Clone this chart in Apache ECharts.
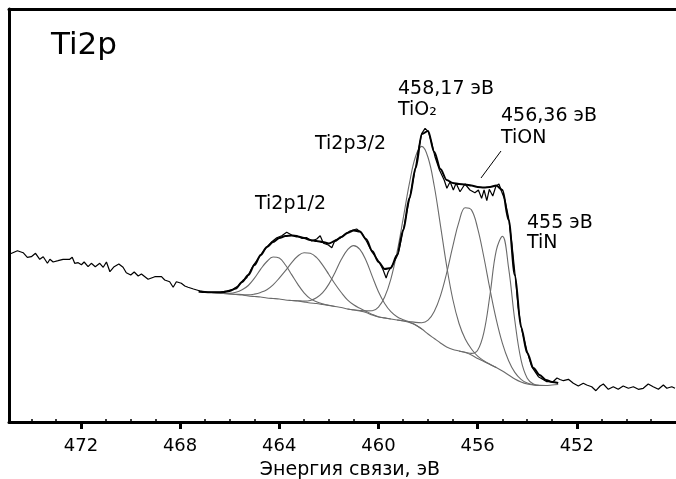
<!DOCTYPE html>
<html><head><meta charset="utf-8">
<script src="https://cdn.jsdelivr.net/npm/echarts@6/dist/echarts.min.js"></script>
<style>html,body{margin:0;padding:0;background:#fff}#c{width:676px;height:479px}</style>
</head><body><div id="c"></div>
<script>
// Binding energy axis (eV), intensity in arbitrary units
const majorTicks = [452, 456, 460, 464, 468, 472];
const minorTicks = [449, 450, 451, 453, 454, 455, 457, 458, 459, 461, 462, 463, 465, 466, 467, 469, 470, 471, 473, 474];

// Experimental spectrum [E, I]
const spectrum = [
[474.86,168],[474.80,168.7],[474.56,171.3],[474.33,169.3],[474.16,164.7],[474.00,165.3],[473.83,168.7],[473.66,162.7],
[473.52,165.3],[473.35,158.7],[473.25,162.7],[473.12,160],[472.92,161.3],[472.72,162.7],[472.45,162.7],[472.35,164.7],
[472.25,158.7],[472.11,159.3],[471.98,157.3],[471.87,160],[471.71,155.3],[471.58,158.7],[471.42,155.3],[471.24,158.7],
[471.10,154.7],[470.97,160],[470.83,150.3],[470.66,155.3],[470.47,158],[470.30,154.7],[470.17,149.3],[469.99,147],
[469.85,150],[469.69,146],[469.56,148],[469.29,142.7],[469.02,145.3],[468.75,145.3],[468.62,142],[468.42,140.3],
[468.28,134.7],[468.15,140.3],[467.95,138.7],[467.81,136],[467.68,134.7],[467.46,133],[467.19,131],[466.92,129.7],
[466.66,129.7],[466.39,129.7],[466.12,131],[465.85,133],[465.65,136.3],[465.45,142],[465.31,144.3],[465.18,150.3],
[465.04,157],[464.84,163.7],[464.64,171],[464.48,175.3],[464.30,180.3],[464.10,184.3],[463.90,186.3],[463.70,189.7],
[463.50,187],[463.29,186.3],[463.09,183.7],[462.89,184.3],[462.69,181],[462.49,183],[462.35,186.3],[462.22,178.7],
[462.02,177],[461.88,174.3],[461.75,182],[461.55,183.7],[461.35,187.7],[461.15,191],[460.88,193],[460.67,188.7],
[460.47,180.3],[460.27,170.3],[460.07,163.7],[459.94,158.7],[459.81,152],[459.69,144],[459.61,150],[459.53,152],
[459.40,158.7],[459.26,165.3],[459.20,168.7],[459.00,192],[458.73,225.3],[458.52,252],[458.39,272],[458.25,288.7],
[458.12,293.7],[457.99,290.3],[457.85,278.7],[457.72,265.3],[457.54,252],[457.35,242],[457.24,233.7],[457.11,240.3],
[456.98,232],[456.87,238.7],[456.71,230.3],[456.51,238],[456.31,232],[456.11,229.3],[455.97,232],[455.84,223.7],
[455.74,232],[455.63,221.3],[455.53,232.7],[455.39,226],[455.26,236],[455.14,238],[455.03,230.3],[454.90,222],
[454.76,205.3],[454.62,178.7],[454.49,147],[454.36,114],[454.22,92],[454.02,72],[453.82,55.3],[453.55,45.3],
[453.21,40.3],[452.96,40.3],[452.80,44],[452.68,42.5],[452.54,41.3],[452.34,42.7],[452.14,38.7],[451.94,36],
[451.74,38.7],[451.60,37],[451.40,35.3],[451.23,31.3],[451.06,36],[450.93,38],[450.73,32.7],[450.53,35.3],
[450.33,32.7],[450.13,36],[449.92,33.7],[449.72,35.3],[449.52,32.7],[449.32,33.7],[449.12,38],[448.92,35.3],
[448.71,32.7],[448.51,37],[448.37,33.7],[448.17,35.3],[448.04,33.7]
];

// Fit envelope [E, I]
const envelope = [
[467.25,130.5],[467.0,130],[466.75,129.7],[466.5,129.7],[466.25,130],[466.0,131],[465.75,133.5],[465.5,140],
[465.25,147],[465.0,157],[464.75,167],[464.5,175],[464.25,180],[464.0,184],[463.75,186],[463.5,186.5],
[463.25,185.5],[463.0,184],[462.75,182],[462.5,181],[462.25,180],[462.0,178.5],[461.75,181],[461.5,185],
[461.25,189],[461.0,191.5],[460.75,190.5],[460.5,183],[460.25,171],[460.0,160],[459.75,153],[459.5,154],
[459.25,167],[459.0,192],[458.75,224],[458.5,254],[458.25,288],[458.0,291],[457.75,270],[457.5,253],
[457.25,242],[457.0,239],[456.75,238],[456.5,237.5],[456.25,236.5],[456.0,235],[455.75,234.5],[455.5,235],
[455.25,236.5],[455.0,232],[454.75,202],[454.5,147],[454.25,95],[454.0,69],[453.75,54],[453.5,47],
[453.25,42],[453.0,40],[452.75,39]
];

// Shirley-type background [E, I]
const background = [
[467.25,130],[467.0,130],[466.75,129.5],[466.5,129],[466.25,128.5],[466.0,128],[465.75,127.5],[465.5,127],
[465.25,126],[465.0,125.5],[464.75,125],[464.5,124],[464.25,123.5],[464.0,123],[463.75,122],[463.5,121.5],
[463.25,121],[463.0,120],[462.75,119],[462.5,118.5],[462.25,117.5],[462.0,116.5],[461.75,115.5],[461.5,114.5],
[461.25,113],[461.0,112],[460.75,111],[460.5,109.5],[460.25,107],[460.0,105],[459.75,104],[459.5,103],
[459.25,102],[459.0,101],[458.75,99.5],[458.5,97],[458.25,93],[458.0,88],[457.75,83.5],[457.5,79],
[457.25,75],[457.0,72.5],[456.75,71],[456.5,69.5],[456.25,67],[456.0,63.5],[455.75,60.5],[455.5,57.5],
[455.25,54.5],[455.0,51],[454.75,47],[454.5,43],[454.25,40],[454.0,38],[453.75,37],[453.5,36.5],
[453.25,36.5],[453.0,37],[452.75,37.5]
];

// Fitted components: [E, height above background]
const peak464 = [[466.75,0],[466.5,0.1],[466.25,0.3],[466.0,0.8],[465.75,2.2],[465.5,5.2],[465.25,10.5],[465.0,18.3],[464.75,27.8],[464.5,36.5],[464.25,41.5],[464.0,40.9],[463.75,35.0],[463.5,25.9],[463.25,16.6],[463.0,9.2],[462.75,4.4],[462.5,1.8],[462.25,0.7],[462.0,0.2],[461.75,0]];
const peak463 = [[466.25,0],[466.0,0.1],[465.75,0.2],[465.5,0.5],[465.25,1.1],[465.0,2.4],[464.75,4.6],[464.5,8.3],[464.25,13.7],[464.0,20.9],[463.75,29.3],[463.5,37.8],[463.25,45.0],[463.0,49.3],[462.75,49.7],[462.5,46.1],[462.25,39.4],[462.0,31.0],[461.75,22.5],[461.5,15.0],[461.25,9.2],[461.0,5.2],[460.75,2.7],[460.5,1.3],[460.25,0.6],[460.0,0.2],[459.75,0.1],[459.5,0]];
const peak461 = [[463.5,0],[463.25,0.3],[463.0,0.9],[462.75,2.5],[462.5,5.7],[462.25,11.8],[462.0,21.4],[461.75,34.1],[461.5,47.9],[461.25,59.2],[461.0,64.4],[460.75,61.7],[460.5,52.0],[460.25,38.6],[460.0,25.2],[459.75,14.5],[459.5,7.3],[459.25,3.3],[459.0,1.3],[458.75,0.4],[458.5,0.1],[458.25,0]];
const peakTiO2 = [[461.25,0],[461.0,0.2],[460.75,0.5],[460.5,1.6],[460.25,4.2],[460.0,9.9],[459.75,21.0],[459.5,39.9],[459.25,67.8],[459.0,102.8],[458.75,139.3],[458.5,168.7],[458.25,182.6],[458.0,176.5],[457.75,152.5],[457.5,117.7],[457.25,81.2],[457.0,50.0],[456.75,27.5],[456.5,13.5],[456.25,6.0],[456.0,2.3],[455.75,0.8],[455.5,0.3],[455.25,0]];
const peakTiON = [[459.25,0],[459.0,0.3],[458.75,1.0],[458.5,2.6],[458.25,6.3],[458.0,13.8],[457.75,27.0],[457.5,47.2],[457.25,73.9],[457.0,103.3],[456.75,129.3],[456.5,144.8],[456.25,145.1],[456.0,130.2],[455.75,104.5],[455.5,75.0],[455.25,48.2],[455.0,27.7],[454.75,14.3],[454.5,6.6],[454.25,2.7],[454.0,1.0],[453.75,0.3],[453.5,0]];
const peakTiN = [[456.75,0],[456.5,0.2],[456.25,1.6],[456.0,8.2],[455.75,28.9],[455.5,70.0],[455.25,116.9],[455.0,134.6],[454.75,106.9],[454.5,58.5],[454.25,22.1],[454.0,5.8],[453.75,1.0],[453.5,0.1],[453.25,0]];

const bgMap = new Map(background.map(p => [p[0].toFixed(2), p[1]]));
const onBg = comp => comp.map(([e, h]) => [e, bgMap.get(e.toFixed(2)) + h]);
const components = [peak464, peak463, peak461, peakTiO2, peakTiON, peakTiN];

const FONT = '"DejaVu Sans", "Liberation Sans", sans-serif';
const gray = '#6a6a6a';
const xRange = { min: 448, max: 474.9, inverse: true };

const series = [];
series.push({ type: 'line', data: background, xAxisIndex: 0, yAxisIndex: 0, smooth: 0.3, symbol: 'none',
  lineStyle: { color: gray, width: 1.1 }, z: 2 });
components.forEach(c => series.push({ type: 'line', data: onBg(c), xAxisIndex: 0, yAxisIndex: 0, smooth: 0.4,
  symbol: 'none', lineStyle: { color: gray, width: 1.1 }, z: 2 }));
series.push({ type: 'line', data: spectrum, xAxisIndex: 0, yAxisIndex: 0, smooth: false, symbol: 'none',
  lineStyle: { color: '#000', width: 1.2 }, z: 3 });
series.push({ type: 'line', data: envelope, xAxisIndex: 0, yAxisIndex: 0, smooth: 0.3, smoothMonotone: 'x', symbol: 'none',
  lineStyle: { color: '#000', width: 2 }, z: 4 });

function txt(text, x, y, size, align) {
  return { type: 'text', z: 10, style: { text, x, y, font: size + 'px ' + FONT, fill: '#000',
    textAlign: align || 'left', align: align || 'left', textVerticalAlign: 'middle', verticalAlign: 'middle' } };
}

const chart = echarts.init(document.getElementById('c'), null, { renderer: 'canvas' });
chart.setOption({
  animation: false,
  backgroundColor: '#fff',
  grid: [
    { left: 9, right: 0, top: 9, bottom: 57, containLabel: false },
    { left: 9, right: 0, top: 9, bottom: 57, containLabel: false }
  ],
  xAxis: [
    Object.assign({ type: 'value', gridIndex: 0, position: 'bottom',
      axisLine: { show: true, onZero: false, lineStyle: { color: '#000', width: 3 } },
      axisTick: { show: true, inside: false, length: 7, customValues: majorTicks, lineStyle: { color: '#000', width: 3 } },
      axisLabel: { show: true, customValues: majorTicks, color: '#000', fontFamily: FONT, fontSize: 18, margin: 15 },
      splitLine: { show: false } }, xRange),
    Object.assign({ type: 'value', gridIndex: 0, position: 'top',
      axisLine: { show: true, onZero: false, lineStyle: { color: '#000', width: 3 } },
      axisTick: { show: false }, axisLabel: { show: false }, splitLine: { show: false } }, xRange),
    Object.assign({ type: 'value', gridIndex: 1, position: 'bottom',
      axisLine: { show: false, onZero: false },
      axisTick: { show: true, inside: true, length: 3, customValues: minorTicks, lineStyle: { color: '#000', width: 1.5 } },
      axisLabel: { show: false }, splitLine: { show: false } }, xRange)
  ],
  yAxis: [
    { type: 'value', gridIndex: 0, min: 0, max: 413,
      axisLine: { show: true, onZero: false, lineStyle: { color: '#000', width: 3 } },
      axisTick: { show: false }, axisLabel: { show: false }, splitLine: { show: false } },
    { type: 'value', gridIndex: 1, min: 0, max: 413, show: false }
  ],
  series,
  graphic: [
    txt('Ti2p', 51, 46, 31),
    txt('Ti2p1/2', 255, 204, 19),
    txt('Ti2p3/2', 315, 144.5, 19),
    txt('458,17 эВ', 398, 89.5, 19),
    txt('TiO₂', 398, 110, 19),
    txt('456,36 эВ', 501, 116.5, 19),
    txt('TiON', 501, 138, 19),
    txt('455 эВ', 527, 223, 19),
    txt('TiN', 527, 243, 19),
    txt('Энергия связи, эВ', 350, 470.5, 19, 'center'),
    { type: 'line', z: 10, shape: { x1: 501, y1: 151, x2: 481, y2: 178 }, style: { stroke: '#000', lineWidth: 1 } }
  ]
});
</script></body></html>
